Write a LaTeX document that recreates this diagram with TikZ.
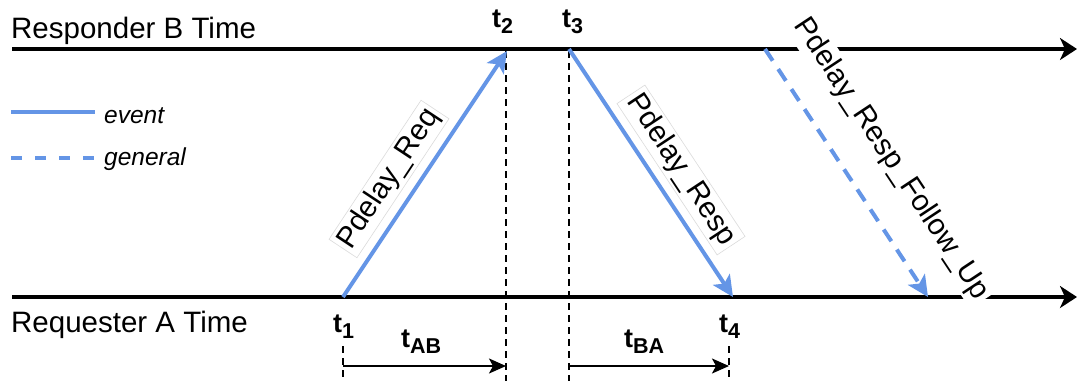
\documentclass[tikz,border=0pt]{standalone}
\usepackage{fontspec}
\setmainfont{Liberation Sans}
\usetikzlibrary{arrows.meta}
\definecolor{evblue}{RGB}{100,149,230}
\tikzset{
  axis/.style={line width=4pt, -{Stealth[length=17pt,width=22pt,inset=5pt]}},
  evarrow/.style={evblue, line width=4pt, -{Stealth[length=21pt,width=20pt,inset=5pt]}},
  genarrow/.style={evarrow, dash pattern=on 14pt off 10pt},
  vdash/.style={line width=1.8pt, dash pattern=on 7pt off 5pt},
  span/.style={line width=2pt, -{Stealth[length=17pt,width=15pt,inset=4pt]}},
  bigtext/.style={font=\fontsize{29.5}{33}\selectfont, inner sep=0pt},
  msglabel/.style={font=\fontsize{29.5}{33}\selectfont, fill=white, draw=black!14, line width=0.6pt, inner sep=3pt},
  leglabel/.style={font=\fontsize{24.5}{28}\selectfont\itshape, inner sep=0pt},
  tlabel/.style={font=\fontsize{27}{30}\selectfont\bfseries, inner sep=0pt},
}
\newcommand{\tsub}[1]{t\raisebox{-6pt}{\fontsize{21.5}{23}\selectfont #1}}
\begin{document}
\begin{tikzpicture}[x=1pt,y=-1pt]
\useasboundingbox (0,0) rectangle (1077,381);
% time axes
\coordinate (Bstart) at (12,49);
\coordinate (Bend) at (1077,49);
\coordinate (Astart) at (12,297);
\coordinate (Aend) at (1077,297);
\draw[axis] (Bstart) -- (Bend);
\draw[axis] (Astart) -- (Aend);
% event points
\coordinate (p1) at (343,297);
\coordinate (p2) at (507,51);
\coordinate (p3) at (569,49);
\coordinate (p4) at (733,297);
\coordinate (f1) at (765,49);
\coordinate (f2) at (928,297);
% vertical dashed lines
\coordinate (v1a) at (343,346);
\coordinate (v1b) at (343,381);
\coordinate (v2a) at (506,51);
\coordinate (v2b) at (506,381);
\coordinate (v3a) at (569,51);
\coordinate (v3b) at (569,381);
\coordinate (v4a) at (729,346);
\coordinate (v4b) at (729,381);
\draw[vdash] (v1a) -- (v1b);
\draw[vdash] (v2a) -- (v2b);
\draw[vdash] (v3a) -- (v3b);
\draw[vdash] (v4a) -- (v4b);
% messages
\draw[evarrow] (p1) -- (p2);
\draw[evarrow] (p3) -- (p4);
\draw[genarrow] (f1) -- (f2);
\node[msglabel, rotate=56.5] (lreq) at (389,179) {Pdelay\_Req};
\node[msglabel, rotate=-56.5] (lresp) at (681,170) {Pdelay\_Resp};
\node[msglabel, draw=none, rotate=-56.5] (lfup) at (891,159) {Pdelay\_Resp\_Follow\_Up};
% axis labels
\node[bigtext, anchor=base west] (bl) at (11,38) {Responder B Time};
\node[bigtext, anchor=base west] (al) at (11,332) {Requester A Time};
% legend
\coordinate (le1) at (11,112);
\coordinate (le2) at (95,112);
\coordinate (lg1) at (11,158);
\coordinate (lg2) at (95,158);
\draw[evblue, line width=4pt] (le1) -- (le2);
\draw[evblue, line width=4pt, dash pattern=on 11pt off 13pt] (lg1) -- (lg2);
\node[leglabel, anchor=base west] (lev) at (104,123) {event};
\node[leglabel, anchor=base west] (lgen) at (104,165) {general};
% time labels
\node[tlabel, anchor=base west] (t2) at (492,27) {\tsub{2}};
\node[tlabel, anchor=base west] (t3) at (562,27) {\tsub{3}};
\node[tlabel, anchor=base west] (t1) at (333,332) {\tsub{1}};
\node[tlabel, anchor=base west] (t4) at (719,332) {\tsub{4}};
\node[tlabel, anchor=base west] (tab) at (401,347) {\tsub{AB}};
\node[tlabel, anchor=base west] (tba) at (624,347) {\tsub{BA}};
% spans
\coordinate (s1) at (343,366);
\coordinate (s2) at (506,366);
\coordinate (s3) at (569,366);
\coordinate (s4) at (729,366);
\draw[span] (s1) -- (s2);
\draw[span] (s3) -- (s4);
\end{tikzpicture}
\end{document}
